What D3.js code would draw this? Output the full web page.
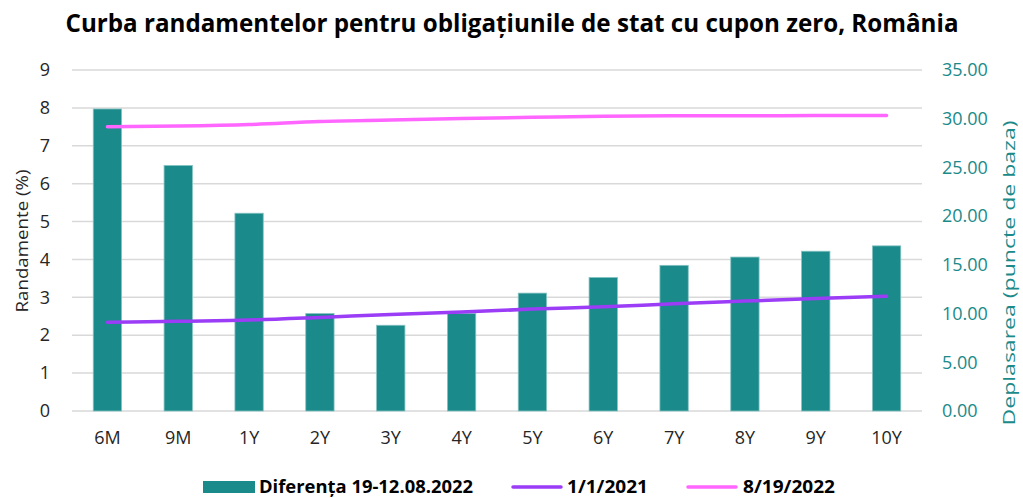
<!DOCTYPE html>
<html>
<head>
<meta charset="utf-8">
<script src="https://cdn.jsdelivr.net/npm/d3@7"></script>
<style>
  html, body { margin: 0; padding: 0; background: #fff; }
  svg { display: block; font-family: "Open Sans", sans-serif; }
</style>
</head>
<body>
<div id="chart"></div>
<script>
const categories = ['6M', '9M', '1Y', '2Y', '3Y', '4Y', '5Y', '6Y', '7Y', '8Y', '9Y', '10Y'];
// bars, right axis (basis points)
const diffValues = [31.0, 25.2, 20.3, 10.0, 8.8, 10.0, 12.1, 13.7, 14.95, 15.8, 16.4, 16.95];
// lines, left axis (%)
const yields2021 = [2.34, 2.37, 2.40, 2.47, 2.55, 2.61, 2.69, 2.75, 2.83, 2.90, 2.97, 3.03];
const yields2022 = [7.50, 7.52, 7.56, 7.64, 7.68, 7.72, 7.75, 7.78, 7.79, 7.79, 7.80, 7.80];
const leftTicks = [0, 1, 2, 3, 4, 5, 6, 7, 8, 9];
const rightTicks = [0, 5, 10, 15, 20, 25, 30, 35];

const width = 1023, height = 498;
const teal = '#1a8a8a', purple = '#9b3cf7', pink = '#ff66ff';
const font = '"Open Sans", sans-serif';

const svg = d3.select('#chart').append('svg')
    .attr('width', width)
    .attr('height', height);

const x = d3.scaleBand()
    .domain(categories)
    .range([72, 922])
    .paddingInner(0.6)
    .paddingOuter(0.3);
const yLeft = d3.scaleLinear().domain([0, 9]).range([411, 70]);
const yRight = d3.scaleLinear().domain([0, 35]).range([411, 70]);

// title
svg.append('text')
    .attr('x', 512)
    .attr('y', 32)
    .attr('text-anchor', 'middle')
    .attr('textLength', 893)
    .attr('lengthAdjust', 'spacingAndGlyphs')
    .style('font-size', '25px')
    .style('font-weight', 'bold')
    .style('fill', '#000')
    .text('Curba randamentelor pentru obligațiunile de stat cu cupon zero, România');

// gridlines
svg.append('g')
    .selectAll('line')
    .data(leftTicks)
    .enter()
    .append('line')
    .attr('x1', 72)
    .attr('x2', 922)
    .attr('y1', d => yLeft(d))
    .attr('y2', d => yLeft(d))
    .style('stroke', '#d9d9d9')
    .style('stroke-width', 1.5);

function styleTicks(g, color) {
    g.select('.domain').remove();
    g.selectAll('text')
        .style('font-size', '18px')
        .style('fill', color)
        .style('font-family', font);
}

// left axis
svg.append('g')
    .attr('transform', 'translate(72,0)')
    .call(d3.axisLeft(yLeft).tickValues(leftTicks).tickSize(0).tickPadding(22))
    .call(g => styleTicks(g, '#262626'));

// right axis
svg.append('g')
    .attr('transform', 'translate(922,0)')
    .call(d3.axisRight(yRight).tickValues(rightTicks).tickSize(0).tickPadding(20).tickFormat(d3.format('.2f')))
    .call(g => styleTicks(g, teal));

// bottom axis
svg.append('g')
    .attr('transform', 'translate(0,411)')
    .call(d3.axisBottom(x).tickSize(0).tickPadding(20))
    .call(g => styleTicks(g, '#262626'));

// axis titles
svg.append('text')
    .attr('transform', 'translate(28,241) rotate(-90)')
    .attr('text-anchor', 'middle')
    .attr('textLength', 143)
    .attr('lengthAdjust', 'spacingAndGlyphs')
    .style('font-size', '17px')
    .style('fill', '#262626')
    .text('Randamente (%)');

svg.append('text')
    .attr('transform', 'translate(1015,273) rotate(-90)')
    .attr('text-anchor', 'middle')
    .attr('textLength', 305)
    .attr('lengthAdjust', 'spacingAndGlyphs')
    .style('font-size', '16px')
    .style('fill', teal)
    .text('Deplasarea (puncte de baza)');

// bars
svg.append('g')
    .selectAll('rect')
    .data(diffValues)
    .enter()
    .append('rect')
    .attr('x', (d, i) => x(categories[i]))
    .attr('y', d => yRight(d))
    .attr('width', x.bandwidth())
    .attr('height', d => yRight(0) - yRight(d))
    .style('fill', teal)
    .style('stroke', '#86c2c2')
    .style('stroke-width', 0.8);

// lines
const line = d3.line()
    .x((d, i) => x(categories[i]) + x.bandwidth() / 2)
    .y(d => yLeft(d))
    .curve(d3.curveMonotoneX);

[[yields2021, purple], [yields2022, pink]].forEach(([vals, color]) => {
    svg.append('path')
        .datum(vals)
        .attr('d', line)
        .style('fill', 'none')
        .style('stroke', color)
        .style('stroke-width', 3.5)
        .style('stroke-linecap', 'round');
});

// legend
const legendY = 487;
svg.append('rect')
    .attr('x', 203)
    .attr('y', legendY - 6)
    .attr('width', 52)
    .attr('height', 12)
    .style('fill', teal);
svg.append('text')
    .attr('x', 259)
    .attr('y', legendY + 6)
    .attr('textLength', 214)
    .attr('lengthAdjust', 'spacingAndGlyphs')
    .style('font-size', '17px')
    .style('font-weight', 'bold')
    .text('Diferența 19-12.08.2022');

const lineLegend = [
    { label: '1/1/2021', color: purple, x0: 511, x1: 563, tx: 567, tl: 81 },
    { label: '8/19/2022', color: pink, x0: 686, x1: 738, tx: 743, tl: 92 }
];
lineLegend.forEach(l => {
    svg.append('line')
        .attr('x1', l.x0 + 2)
        .attr('x2', l.x1 - 2)
        .attr('y1', legendY)
        .attr('y2', legendY)
        .style('stroke', l.color)
        .style('stroke-width', 3.5)
        .style('stroke-linecap', 'round');
    svg.append('text')
        .attr('x', l.tx)
        .attr('y', legendY + 6)
        .attr('textLength', l.tl)
        .attr('lengthAdjust', 'spacingAndGlyphs')
        .style('font-size', '17px')
        .style('font-weight', 'bold')
        .text(l.label);
});
</script>
</body>
</html>
